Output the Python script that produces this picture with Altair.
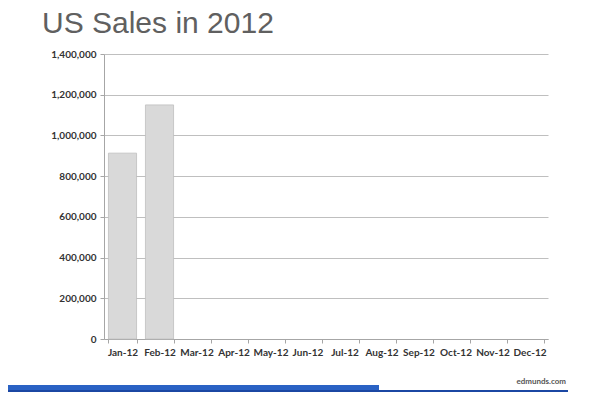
import altair as alt
import pandas as pd

months = ["Jan-12", "Feb-12", "Mar-12", "Apr-12", "May-12", "Jun-12",
          "Jul-12", "Aug-12", "Sep-12", "Oct-12", "Nov-12", "Dec-12"]
sales = [913000, 1150000, None, None, None, None,
         None, None, None, None, None, None]
y_ticks = [0, 200000, 400000, 600000, 800000, 1000000, 1200000, 1400000]

df = pd.DataFrame({"month": months, "sales": sales})

FONT = "Lato"
W, H = 444, 285

bars = alt.Chart(df).mark_bar(
    color="#d9d9d9", stroke="#bfbfbf", strokeWidth=0.8
).encode(
    x=alt.X("month:N", sort=months,
            scale=alt.Scale(domain=months, paddingInner=0.24, paddingOuter=0.12),
            axis=alt.Axis(title=None, labelAngle=0, tickBand="extent",
                          labelFont=FONT, labelFontSize=10, labelFontWeight="bold",
                          labelColor="#333333", labelPadding=4,
                          tickSize=4, tickColor="#a6a6a6", domainColor="#a6a6a6",
                          grid=False)),
    y=alt.Y("sales:Q",
            scale=alt.Scale(domain=[0, 1400000], nice=False),
            axis=alt.Axis(title=None, values=y_ticks, format=",d",
                          labelFont=FONT, labelFontSize=10, labelFontWeight="bold",
                          labelColor="#333333", labelPadding=4,
                          tickSize=4, tickColor="#a6a6a6", domainColor="#a6a6a6",
                          gridColor="#bfbfbf", gridWidth=1)),
)

deco = alt.Data(values=[{"k": 1}])
band_light = alt.Chart(deco).mark_rect(color="#2a62c4").encode(
    x=alt.value(-104), x2=alt.value(275), y=alt.value(331), y2=alt.value(345)
)
band_dark = alt.Chart(deco).mark_rect(color="#1b47a3").encode(
    x=alt.value(-104), x2=alt.value(464), y=alt.value(336), y2=alt.value(345)
)
logo = alt.Chart(deco).mark_text(
    text="edmunds.com", font=FONT, fontSize=8, fontWeight="bold",
    color="#555555", align="right", baseline="middle"
).encode(x=alt.value(462), y=alt.value(328))

chart = alt.layer(bars, band_light, band_dark, logo).properties(
    width=W, height=H,
    padding={"left": 96, "top": 46, "right": 44, "bottom": 53},
    autosize=alt.AutoSizeParams(type="none"),
    title=alt.TitleParams(
        text="US Sales in 2012", anchor="start", frame="group",
        font="Liberation Sans", fontSize=30, fontWeight="normal",
        color="#606060", dx=-62, offset=10
    ),
).configure_view(stroke=None)

chart.save("out.html", embed_options={"renderer": "svg", "actions": False})
